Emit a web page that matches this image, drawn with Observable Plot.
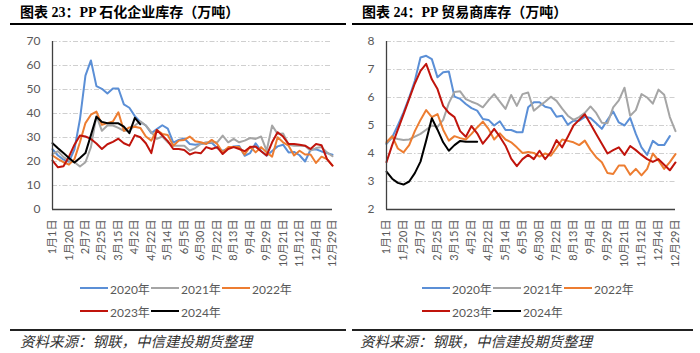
<!DOCTYPE html>
<html><head><meta charset="utf-8">
<script src="https://cdn.jsdelivr.net/npm/d3@7"></script>
<script src="https://cdn.jsdelivr.net/npm/@observablehq/plot@0.6"></script>
<style>
body{margin:0;background:#fff;}
#wrap{position:relative;width:700px;height:353px;overflow:hidden;background:#fff;font-family:"Noto Sans CJK SC",sans-serif;}
.title{position:absolute;top:3px;line-height:20px;font-family:"Liberation Serif","Noto Sans CJK SC",serif;font-weight:bold;font-size:14px;color:#000;white-space:nowrap;}
.rule{position:absolute;background:#000;}
.chart{position:absolute;top:26px;}
.litem{position:absolute;height:16px;display:flex;align-items:center;font-family:Lato,"Noto Sans CJK SC",sans-serif;font-size:12px;color:#595959;white-space:nowrap;}
.litem span.sw{display:inline-block;width:28px;height:2px;margin-right:2px;}
.src{position:absolute;top:332px;line-height:18px;font-size:14.5px;font-style:italic;color:#333;white-space:nowrap;}
</style></head>
<body>
<div id="wrap"></div>
<script>
const tickLabels = ["1月1日","1月20日","2月7日","2月25日","3月15日","4月2日","4月22日","5月14日","6月5日","6月30日","7月22日","8月13日","9月4日","9月29日","10月21日","11月12日","12月4日","12月29日"];
const weekCount = 52;
const years = ["2020年","2021年","2022年","2023年","2024年"];
const colors = ["#5B8FD6","#A5A5A5","#ED7D31","#C0140C","#000000"];
const titles = ["图表 23：PP 石化企业库存（万吨）","图表 24：PP 贸易商库存（万吨）"];
const sourceText = "资料来源：钢联，中信建投期货整理";

// PP 石化企业库存（万吨）
const petro2020 = [25.1,22.5,20.8,19.9,25.1,37.6,55.8,62.1,51.4,50.3, 48.3,50.4,50.4,43.8,42.4,38.9,36.5,35,31.8,33.5, 35.1,33.7,27.9,29,29.6,27.3,27,27.3,27.6,27.8, 25.6,24.4,25.5,26.3,26.5,22.4,23.5,27.6,24.4,22.4, 24.4,26.3,27,23.8,24,22.6,20,24.9,25.1,24.2, 23.5,22.8];
const petro2021 = [23.1,24.3,21.8,20.4,19.7,17.9,19.7,26,39,32.8, 35,35,34,32.8,32.8,35,36.7,35,32.2,29.4, 30.4,28,26.6,26.6,26.6,24.5,25.6,27.3,28,28, 28,30.8,28,29.4,28,28.7,29.8,29.4,30.4,24.5, 35,31.5,31.7,27,26.6,26.6,26.6,24.5,25.6,26, 23.8,22.2];
const petro2022 = [22.5,21,19.7,18.7,21,28,36,39.5,40.8,35.3, 36,36.7,40.5,32.8,34.2,34.5,34,30.4,28.7,33.1, 31.5,31,26.6,28.7,29,30.4,28.4,28,27.3,29, 27.3,23.8,26,26,26,22.9,26.2,23.8,26,23.8, 22,30.1,28,26.6,22.5,24.5,22.9,22.9,19.4,22, 21,18.3];
const petro2023 = [20.4,17.6,18,22,27,30.8,30.4,29.4,27.5,25.2, 27.2,28.2,29.5,27.6,26.6,31,30.1,27.6,23.5,33.1, 30.8,28.5,25.2,25.2,24.8,22.9,23.8,23.4,26,25.2, 26,23.1,25.2,26,25.2,24.3,26,26.2,24.3,22.5, 28,32.2,30.4,27.3,27.3,27,26.6,25.2,27.3,26.8, 21,18.3];
const petro2024 = [27.6,25.5,23.5,21.5,19.6,21.5,23.5,31,38.6,36.5,35.9,35.9,35.9,34.5,31.8,38.2,35.5];

// PP 贸易商库存（万吨）
const trader2020 = [4.34,4.58,5.0,5.47,6.0,6.6,7.43,7.49,7.37,6.72, 6.9,6.93,6.03,5.95,5.77,5.62,5.53,5.23,5.2,5.0, 5.15,4.84,4.84,4.76,4.76,5.65,5.83,5.83,5.67,5.62, 5.31,5.35,5.03,5.17,5.17,5.31,5.27,5.08,4.88,5.2, 5.5,5.11,5.0,5.27,4.7,4.22,3.95,4.45,4.3,4.3, 4.62];
const trader2021 = [4.36,4.58,4.52,4.48,4.5,4.6,4.7,4.85,5.0,4.95, 5.2,5.8,6.2,6.22,5.94,5.85,5.77,5.65,5.9,6.12, 5.85,5.59,6.09,5.7,6.12,6.18,5.53,5.7,5.85,6.03, 5.88,5.6,5.35,5.2,5.3,5.45,5.68,5.45,5.1,5.08, 5.65,5.9,6.35,5.35,5.55,6.12,6.0,5.78,6.28,6.1, 5.3,4.8];
const trader2022 = [4.4,4.62,4.18,4.04,4.3,4.8,5.2,5.55,5.3,5.41, 4.85,4.46,4.62,4.55,4.5,4.7,4.93,5.14,4.88,4.5, 4.72,4.5,4.4,4.22,4.02,4.05,4.02,3.89,4.0,3.92, 4.2,4.5,4.45,4.4,4.3,4.46,4.13,3.87,3.69,3.3, 3.27,3.57,3.57,3.24,3.45,3.22,3.45,4.0,3.75,3.45, 3.69,3.98];
const trader2023 = [3.69,4.3,4.85,5.4,5.95,6.5,6.95,7.2,6.65,6.3, 5.7,5.45,5.3,4.8,4.6,4.98,4.72,4.35,4.6,4.88, 4.6,4.28,3.82,3.55,3.8,3.95,3.8,4.1,3.8,4.05, 4.48,4.22,4.6,5.0,5.2,5.4,5.05,4.7,4.35,4.0, 4.12,4.22,3.95,4.27,4.12,3.95,3.8,3.7,3.8,3.6, 3.4,3.68];
const trader2024 = [3.35,3.1,2.95,2.89,3.0,3.3,3.71,4.46,5.26,4.85,4.4,4.1,4.3,4.45,4.42,4.42,4.42];

const petroTicks = [0,10,20,30,40,50,60,70];
const traderTicks = [2,3,4,5,6,7,8];

const wrap = document.getElementById("wrap");
function add(tag, cls, style, text) {
  const el = document.createElement(tag);
  if (cls) el.className = cls;
  Object.assign(el.style, style);
  if (text != null) el.textContent = text;
  wrap.appendChild(el);
  return el;
}

function chart(series, ticks, marginLeft, marginRight) {
  const data = series.flatMap((arr, k) => arr.map((v, i) => ({year: years[k], i, v})));
  const tickIdx = tickLabels.map((_, j) => j * 3);
  return Plot.plot({
    width: 350, height: 250,
    marginTop: 15, marginBottom: 67, marginLeft, marginRight,
    style: {fontFamily: 'Lato,"Noto Sans CJK SC",sans-serif', fontSize: "11px", color: "#595959", background: "transparent"},
    x: {domain: [0, weekCount - 1], label: null},
    y: {domain: [ticks[0], ticks[ticks.length - 1]], label: null},
    marks: [
      Plot.gridY(ticks.slice(1), {stroke: "#cfcfcf", strokeOpacity: 1, strokeWidth: 1, strokeDasharray: "5,2,1.5,2"}),
      Plot.axisY(ticks, {tickSize: 0, tickPadding: 12, fontSize: 12, label: null}),
      Plot.axisX(tickIdx, {tickSize: 0, tickPadding: 10, tickRotate: -90, label: null, tickFormat: i => tickLabels[i / 3]}),
      ...years.map((yr, k) => Plot.line(data.filter(d => d.year === yr), {x: "i", y: "v", stroke: colors[k], strokeWidth: 2, strokeLinejoin: "round", strokeLinecap: "round"})),
      Plot.ruleX([0], {stroke: "#404040", strokeWidth: 1.3}),
      Plot.ruleY([ticks[0]], {stroke: "#404040", strokeWidth: 1.3})
    ]
  });
}

const panels = [
  {left: 0, titleX: 20, ruleX0: 10, ruleX1: 346, legX: 80, srcX: 20,
   series: [petro2020, petro2021, petro2022, petro2023, petro2024], ticks: petroTicks, ml: 52, mr: 18},
  {left: 350, titleX: 362, ruleX0: 352, ruleX1: 693, legX: 422, srcX: 360,
   series: [trader2020, trader2021, trader2022, trader2023, trader2024], ticks: traderTicks, ml: 36, mr: 25}
];

panels.forEach((p, n) => {
  add("div", "title", {left: p.titleX + "px"}, titles[n]);
  add("div", "rule", {left: p.ruleX0 + "px", width: (p.ruleX1 - p.ruleX0) + "px", top: "23px", height: "2px"});
  const c = add("div", "chart", {left: p.left + "px"});
  c.appendChild(chart(p.series, p.ticks, p.ml, p.mr));
  years.forEach((yr, k) => {
    const row = k < 3 ? 0 : 1, col = k < 3 ? k : k - 3;
    const it = add("div", "litem", {left: (p.legX + col * 71) + "px", top: (row === 0 ? 280 : 303) + "px"});
    const sw = document.createElement("span");
    sw.className = "sw"; sw.style.background = colors[k];
    it.appendChild(sw);
    const t = document.createElement("span"); t.textContent = yr;
    it.appendChild(t);
  });
  add("div", "rule", {left: p.ruleX0 + "px", width: (p.ruleX1 - p.ruleX0) + "px", top: "329px", height: "1.5px", background: "#222"});
  add("div", "src", {left: p.srcX + "px"}, sourceText);
});
</script>
</body></html>
